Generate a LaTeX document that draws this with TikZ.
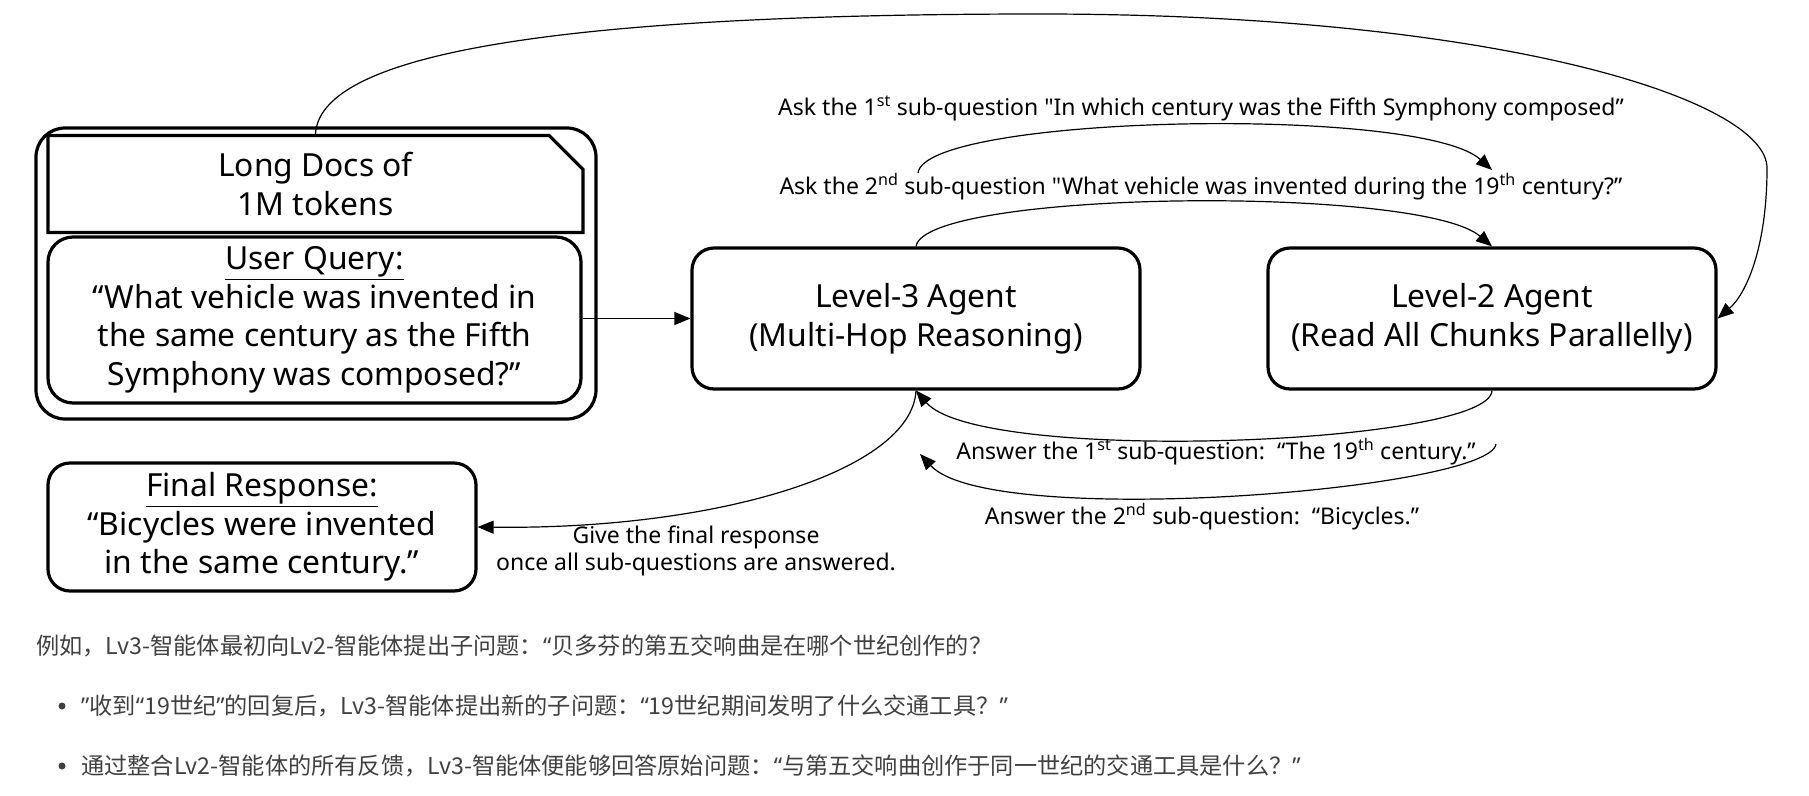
\documentclass[tikz,border=0pt]{standalone}
\usepackage{fontspec}
\setmainfont{Noto Sans}[Ligatures=TeXOff]
\newfontfamily\cjkfont{Noto Sans CJK SC}[Ligatures=TeXOff]
\newcommand{\latq}[1]{{\rmfamily #1}}
\usetikzlibrary{arrows.meta,shapes.misc}
\definecolor{cjkgray}{HTML}{404040}
\begin{document}
\begin{tikzpicture}[x=1pt,y=-1pt,
  boxtext/.style={font=\fontsize{31.8}{38.5}\selectfont, align=center},
  rbox/.style={draw, line width=3.2pt, rounded corners=22pt, boxtext, inner sep=0pt},
  lbl/.style={font=\fontsize{23}{27.5}\selectfont, align=center, inner sep=0pt},
  conn/.style={line width=1.2pt, -{Triangle[length=16pt,width=13pt]}},
  cjk/.style={font=\cjkfont\fontsize{23.2}{26}\selectfont, text=cjkgray, anchor=west, inner sep=0pt}]
\useasboundingbox (0,0) rectangle (1809,795);

% left container
\node[draw, line width=3.2pt, rounded corners=29pt, minimum width=560pt, minimum height=291pt, inner sep=0pt] (outer) at (316,273.5) {};
\node[draw, line width=3.2pt, chamfered rectangle, chamfered rectangle corners=north east, chamfered rectangle xsep=17pt, chamfered rectangle ysep=17pt, minimum width=535pt, minimum height=81pt, inner sep=0pt, boxtext] (ld) at (315.5,184) {Long Docs of\\1M tokens};
\node[rbox, rounded corners=25pt, minimum width=533pt, minimum height=166pt] (uq) at (314.5,320) {\underline{User Query:}\\“What vehicle was invented in\\the same century as the Fifth\\Symphony was composed?”};

% agents
\node[rbox, minimum width=448pt, minimum height=141pt] (l3) at (916,318.5) {Level-3 Agent\\(Multi-Hop Reasoning)};
\node[rbox, minimum width=448pt, minimum height=141pt] (l2) at (1492,318.5) {Level-2 Agent\\(Read All Chunks Parallelly)};

% final response
\node[rbox, minimum width=428pt, minimum height=128pt] (fr) at (262,527) {\underline{Final Response:}\\“Bicycles were invented\\in the same century.”};

% labels
\node[lbl] (q1) at (1201,108) {Ask the 1\textsuperscript{st} sub-question "In which century was the Fifth Symphony composed”};
\node[lbl] (q2) at (1201,187) {Ask the 2\textsuperscript{nd} sub-question "What vehicle was invented during the 19\textsuperscript{th} century?”};
\node[lbl] (a1) at (1216,452) {Answer the 1\textsuperscript{st} sub-question:\ \ “The 19\textsuperscript{th} century.”};
\node[lbl] (a2) at (1202,517) {Answer the 2\textsuperscript{nd} sub-question:\ \ “Bicycles.”};
\node[lbl] (gf) at (696,551) {Give the final response\\once all sub-questions are answered.};

% free ends
\coordinate (q1s) at (918,173);
\coordinate (q1e) at (1492,170);
\coordinate (a2s) at (1496,444);
\coordinate (a2e) at (920,454);
\coordinate (tp1) at (1040,14);
\coordinate (tp2) at (1767,168);

% connectors
\draw[conn] (uq.east |- l3.west) -- (l3.west);
\draw[conn] (ld.north) .. controls (320,60) and (520,14) .. (tp1)
  .. controls (1500,14) and (1767,100) .. (tp2)
  .. controls (1767,250) and (1745,295) .. (l2.east);
\draw[conn] (q1s) .. controls (925,115) and (1420,105) .. (q1e);
\draw[conn] (l3.north) .. controls (925,190) and (1420,185) .. (l2.north);
\draw[conn] (l2.south) .. controls (1490,445) and (980,465) .. (l3.south);
\draw[conn] (a2s) .. controls (1490,490) and (990,530) .. (a2e);
\draw[conn] (l3.south) .. controls (912,470) and (720,530) .. (fr.east);

% chinese text
\node[cjk] (c1) at (36,646) {例如，Lv3-智能体最初向Lv2-智能体提出子问题：\latq{“}贝多芬的第五交响曲是在哪个世纪创作的？};
\node[fill=cjkgray, circle, minimum size=7pt, inner sep=0pt] (b1) at (62,706) {};
\node[cjk] (c2) at (81,706) {\latq{”}收到\latq{“}19世纪\latq{”}的回复后，Lv3-智能体提出新的子问题：\latq{“}19世纪期间发明了什么交通工具？\latq{”}};
\node[fill=cjkgray, circle, minimum size=7pt, inner sep=0pt] (b2) at (62,766) {};
\node[cjk] (c3) at (81,766) {通过整合Lv2-智能体的所有反馈，Lv3-智能体便能够回答原始问题：\latq{“}与第五交响曲创作于同一世纪的交通工具是什么？\latq{”}};
\end{tikzpicture}
\end{document}
